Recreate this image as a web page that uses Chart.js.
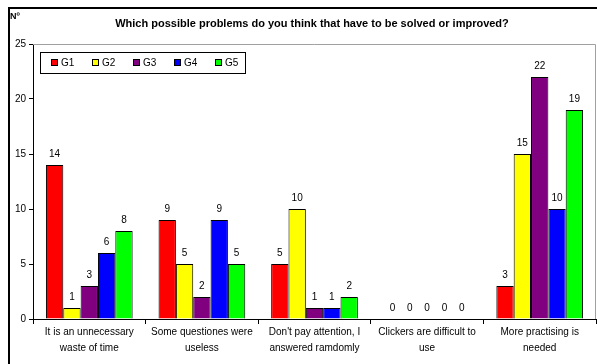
<!DOCTYPE html>
<html>
<head>
<meta charset="utf-8">
<script src="https://cdn.jsdelivr.net/npm/chart.js@4/dist/chart.umd.min.js"></script>
<style>
  html, body { margin: 0; padding: 0; background: #fff; overflow: hidden; }
  #frame { position: absolute; left: 8px; top: 7px; width: 620px; height: 400px; border: 2px solid #000; }
  #problemsChart { position: absolute; left: 0; top: 0; }
</style>
</head>
<body>
<div id="frame"></div>
<canvas id="problemsChart" width="597" height="364"></canvas>
<script>
const problems = [
    ['It is an unnecessary', 'waste of time'],
    ['Some questiones were', 'useless'],
    ["Don't pay attention, I", 'answered ramdomly'],
    ['Clickers are difficult to', 'use'],
    ['More practising is', 'needed']
];
const groupNames = ['G1', 'G2', 'G3', 'G4', 'G5'];
const g1 = [14, 9, 5, 0, 3];
const g2 = [1, 5, 10, 0, 15];
const g3 = [3, 2, 1, 0, 22];
const g4 = [6, 9, 1, 0, 10];
const g5 = [8, 5, 2, 0, 19];
const groupColors = ['#ff0000', '#ffff00', '#800080', '#0000ff', '#00ff00'];
const yTicks = [0, 5, 10, 15, 20, 25];

const FONT = 'Arial, "Liberation Sans", sans-serif';

// title, "Nº" and the grey plot frame
const framePlugin = {
    id: 'frame',
    beforeDatasetsDraw(chart) {
        const {ctx, chartArea: a} = chart;
        ctx.save();
        ctx.strokeStyle = '#a0a0a0';
        ctx.lineWidth = 1;
        ctx.beginPath();
        ctx.moveTo(a.left, a.top + 0.5);
        ctx.lineTo(a.right - 0.5, a.top + 0.5);
        ctx.lineTo(a.right - 0.5, a.bottom);
        ctx.stroke();
        ctx.restore();
    },
    afterDraw(chart) {
        const ctx = chart.ctx;
        ctx.save();
        ctx.fillStyle = '#000';
        ctx.textBaseline = 'middle';
        ctx.font = 'bold 11px ' + FONT;
        ctx.textAlign = 'center';
        ctx.fillText('Which possible problems do you think that have to be solved or improved?', 312, 24);
        ctx.font = 'bold 9px ' + FONT;
        ctx.textAlign = 'left';
        ctx.fillText('Nº', 10, 17);
        ctx.restore();
    }
};

// value above each bar
const valueLabels = {
    id: 'valueLabels',
    afterDatasetsDraw(chart) {
        const ctx = chart.ctx;
        ctx.save();
        ctx.font = '10px ' + FONT;
        ctx.fillStyle = '#000';
        ctx.textAlign = 'center';
        ctx.textBaseline = 'bottom';
        chart.data.datasets.forEach((ds, i) => {
            chart.getDatasetMeta(i).data.forEach((bar, j) => {
                ctx.fillText(ds.data[j], bar.x, bar.y - 6);
            });
        });
        ctx.restore();
    }
};

// boxed legend inside the plot area
const boxLegend = {
    id: 'boxLegend',
    afterDraw(chart) {
        const ctx = chart.ctx;
        const x0 = 40, y0 = 52, w = 205, h = 21;
        ctx.save();
        ctx.fillStyle = '#fff';
        ctx.fillRect(x0, y0, w, h);
        ctx.strokeStyle = '#000';
        ctx.lineWidth = 1;
        ctx.strokeRect(x0 + 0.5, y0 + 0.5, w, h);
        ctx.font = '10px ' + FONT;
        ctx.textBaseline = 'middle';
        ctx.textAlign = 'left';
        chart.data.datasets.forEach((ds, i) => {
            const sx = 51 + i * 41;
            const cy = 62.5;
            ctx.fillStyle = ds.backgroundColor;
            ctx.fillRect(sx, cy - 3.5, 7, 7);
            ctx.strokeRect(sx + 0.5, cy - 3, 6, 6);
            ctx.fillStyle = '#000';
            ctx.fillText(ds.label, sx + 10, cy + 0.5);
        });
        ctx.restore();
    }
};

const series = [g1, g2, g3, g4, g5];

new Chart(document.getElementById('problemsChart'), {
    type: 'bar',
    data: {
        labels: problems,
        datasets: series.map((values, i) => ({
            label: groupNames[i],
            data: values,
            backgroundColor: groupColors[i],
            borderColor: '#000',
            borderWidth: 1,
            categoryPercentage: 0.77,
            barPercentage: 1.0
        }))
    },
    options: {
        responsive: false,
        animation: false,
        layout: { padding: { top: 44, right: 1, left: 0, bottom: 0 } },
        plugins: {
            legend: { display: false },
            title: { display: false },
            tooltip: { enabled: false }
        },
        scales: {
            x: {
                grid: { offset: true, drawOnChartArea: false, tickLength: 5, color: '#000', lineWidth: 1 },
                border: { color: '#000', width: 1 },
                ticks: { color: '#000', font: { family: FONT, size: 10, lineHeight: 1.6 }, maxRotation: 0, padding: 0 },
                afterFit(scale) { scale.height = 45; }
            },
            y: {
                min: 0,
                max: 25,
                afterBuildTicks(scale) { scale.ticks = yTicks.map(v => ({ value: v })); },
                grid: { drawOnChartArea: false, tickLength: 4, color: '#000' },
                border: { color: '#000', width: 1 },
                ticks: { color: '#000', font: { family: FONT, size: 10 }, padding: 3 },
                afterFit(scale) { scale.width = 33; }
            }
        }
    },
    plugins: [framePlugin, valueLabels, boxLegend]
});
</script>
</body>
</html>
